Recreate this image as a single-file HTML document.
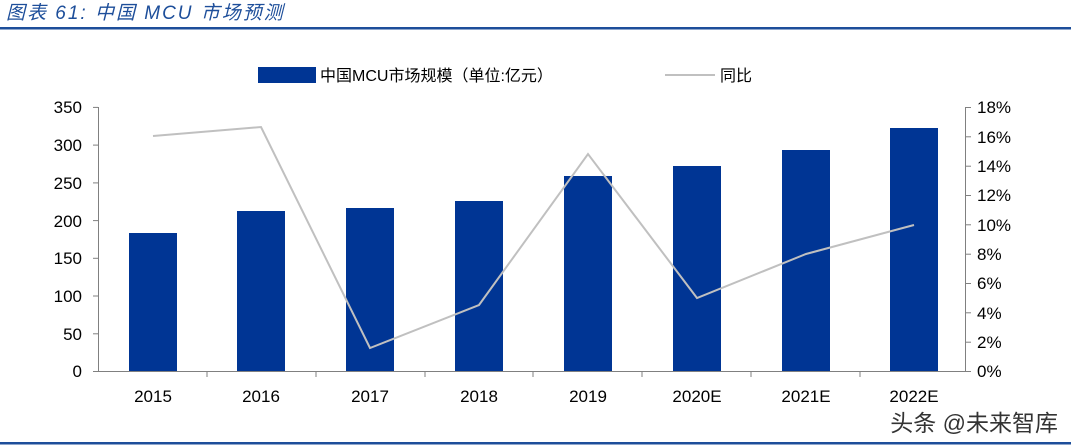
<!DOCTYPE html>
<html><head><meta charset="utf-8"><style>
body{margin:0;background:#fff;}
svg{display:block;font-family:"Liberation Sans","Noto Sans CJK SC",sans-serif;}
</style></head><body>
<svg width="1071" height="447" viewBox="0 0 1071 447">
<text x="6" y="19" font-size="19" font-style="italic" fill="#1d4e9a" letter-spacing="2">图表 61:  中国 MCU 市场预测</text>
<rect x="0" y="27" width="1071" height="2.5" fill="#1d4e9a"/>
<rect x="0" y="442" width="1071" height="2.5" fill="#1d4e9a"/>
<rect x="258" y="67" width="58" height="16" fill="#003594"/>
<text x="320" y="81" font-size="16" fill="#000">中国MCU市场规模（单位:亿元）</text>
<line x1="665" y1="75" x2="715" y2="75" stroke="#c0c0c0" stroke-width="2"/>
<text x="720" y="81" font-size="16" fill="#000">同比</text>
<g stroke="#808080" stroke-width="1">
<line x1="98.5" y1="107" x2="98.5" y2="371"/>
<line x1="965.5" y1="107" x2="965.5" y2="371"/>
<line x1="98" y1="371.5" x2="966" y2="371.5"/>
<line x1="93" y1="371.5" x2="98" y2="371.5"/><line x1="93" y1="333.8" x2="98" y2="333.8"/><line x1="93" y1="296" x2="98" y2="296"/><line x1="93" y1="258.3" x2="98" y2="258.3"/><line x1="93" y1="220.6" x2="98" y2="220.6"/><line x1="93" y1="182.9" x2="98" y2="182.9"/><line x1="93" y1="145.1" x2="98" y2="145.1"/><line x1="93" y1="107.4" x2="98" y2="107.4"/>
<line x1="966" y1="371.5" x2="971" y2="371.5"/><line x1="966" y1="342.2" x2="971" y2="342.2"/><line x1="966" y1="312.8" x2="971" y2="312.8"/><line x1="966" y1="283.5" x2="971" y2="283.5"/><line x1="966" y1="254.2" x2="971" y2="254.2"/><line x1="966" y1="224.8" x2="971" y2="224.8"/><line x1="966" y1="195.5" x2="971" y2="195.5"/><line x1="966" y1="166.2" x2="971" y2="166.2"/><line x1="966" y1="136.8" x2="971" y2="136.8"/><line x1="966" y1="107.5" x2="971" y2="107.5"/>
<line x1="207" y1="371" x2="207" y2="377"/><line x1="316" y1="371" x2="316" y2="377"/><line x1="425" y1="371" x2="425" y2="377"/><line x1="533" y1="371" x2="533" y2="377"/><line x1="642" y1="371" x2="642" y2="377"/><line x1="751" y1="371" x2="751" y2="377"/><line x1="860" y1="371" x2="860" y2="377"/>
</g>
<g font-size="17" fill="#000" text-anchor="end">
<text x="82" y="377">0</text><text x="82" y="340">50</text><text x="82" y="302">100</text><text x="82" y="264">150</text><text x="82" y="227">200</text><text x="82" y="189">250</text><text x="82" y="151">300</text><text x="82" y="113">350</text>
</g>
<g font-size="17" fill="#000" text-anchor="start">
<text x="977" y="377">0%</text><text x="977" y="348">2%</text><text x="977" y="319">4%</text><text x="977" y="289">6%</text><text x="977" y="260">8%</text><text x="977" y="231">10%</text><text x="977" y="201">12%</text><text x="977" y="172">14%</text><text x="977" y="143">16%</text><text x="977" y="113">18%</text>
</g>
<g fill="#003594">
<rect x="129" y="233" width="48" height="138"/>
<rect x="237" y="211" width="48" height="160"/>
<rect x="346" y="208" width="48" height="163"/>
<rect x="455" y="201" width="48" height="170"/>
<rect x="564" y="176" width="48" height="195"/>
<rect x="673" y="166" width="48" height="205"/>
<rect x="782" y="150" width="48" height="221"/>
<rect x="890" y="128" width="48" height="243"/>
</g>
<polyline points="153,136 261,127 370,348 479,305 588,154 697,298 806,254 914,225" fill="none" stroke="#c0c0c0" stroke-width="2"/>
<g font-size="17" fill="#000" text-anchor="middle">
<text x="153" y="402">2015</text><text x="261" y="402">2016</text><text x="370" y="402">2017</text><text x="479" y="402">2018</text><text x="588" y="402">2019</text><text x="697" y="402">2020E</text><text x="806" y="402">2021E</text><text x="914" y="402">2022E</text>
</g>
<text x="1058" y="431" font-size="23" fill="#333" text-anchor="end">头条 @未来智库</text>
</svg>
</body></html>
